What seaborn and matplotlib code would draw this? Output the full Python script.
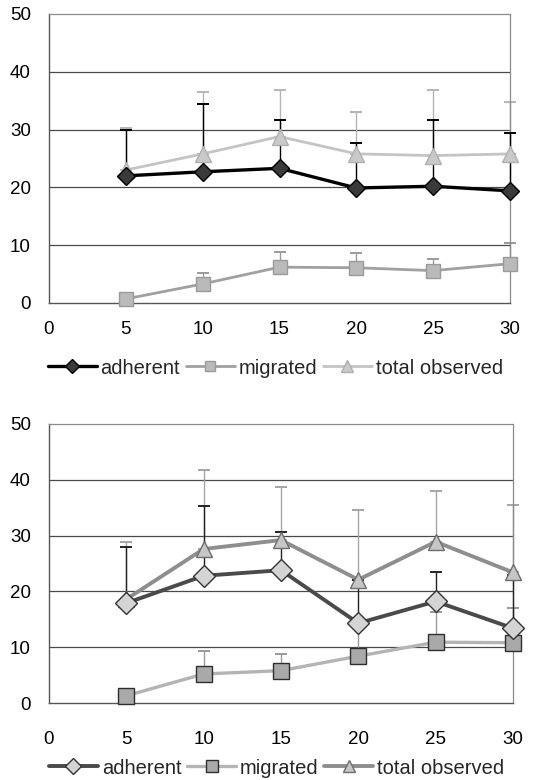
import numpy as np
import pandas as pd
import matplotlib
matplotlib.use("Agg")
import matplotlib.pyplot as plt
import seaborn as sns

# Time points (x axis)
minutes = [5, 10, 15, 20, 25, 30]
x_ticks = [0, 5, 10, 15, 20, 25, 30]
y_ticks = [0, 10, 20, 30, 40, 50]

# Upper panel: mean counts and +error
adherent_top = [22.0, 22.7, 23.3, 19.9, 20.2, 19.4]
adherent_top_err = [8.0, 11.7, 8.3, 7.8, 11.4, 10.0]
migrated_top = [0.7, 3.3, 6.2, 6.1, 5.6, 6.8]
migrated_top_err = [0.0, 1.9, 2.6, 2.5, 2.0, 3.5]
total_top = [23.0, 25.8, 28.8, 25.8, 25.5, 25.8]
total_top_err = [7.3, 10.7, 8.1, 7.2, 11.4, 8.9]

# Lower panel: mean counts and +error
adherent_bot = [17.9, 22.8, 23.8, 14.3, 18.2, 13.4]
adherent_bot_err = [10.1, 12.5, 6.9, 7.7, 5.3, 9.6]
migrated_bot = [1.3, 5.2, 5.8, 8.4, 10.9, 10.8]
migrated_bot_err = [0.0, 4.1, 3.0, 5.6, 5.4, 6.2]
total_bot = [18.6, 27.6, 29.2, 22.1, 28.9, 23.4]
total_bot_err = [10.3, 14.2, 9.5, 12.5, 9.1, 12.0]

series_names = ["adherent", "migrated", "total observed"]

sns.set_style("white")
plt.rcParams["font.family"] = ["Liberation Sans", "DejaVu Sans"]
plt.rcParams["font.size"] = 13.5

fig = plt.figure(figsize=(5.35, 7.8), dpi=100)
ax_top = fig.add_axes([49 / 535, 1 - 303 / 780, 461 / 535, 289 / 780])
ax_bot = fig.add_axes([49 / 535, 1 - 703 / 780, 464 / 535, 279 / 780])

styles_top = {
    "adherent": dict(color="#000000", lw=2.4, marker="D", ms=9.5, mfc="#3a3a3a", mec="#000000",
                     err_color="#000000"),
    "migrated": dict(color="#a0a0a0", lw=2.0, marker="s", ms=10.5, mfc="#bababa", mec="#9a9a9a",
                     err_color="#9a9a9a"),
    "total observed": dict(color="#c4c4c4", lw=2.0, marker="^", ms=11, mfc="#c9c9c9", mec="#b0b0b0",
                           err_color="#b5b5b5"),
}
styles_bot = {
    "adherent": dict(color="#4a4a4a", lw=2.8, marker="D", ms=11, mfc="#d4d4d4", mec="#333333",
                     err_color="#222222"),
    "migrated": dict(color="#b4b4b4", lw=2.4, marker="s", ms=12, mfc="#a9a9a9", mec="#2e2e2e",
                     err_color="#999999"),
    "total observed": dict(color="#8e8e8e", lw=2.8, marker="^", ms=11.5, mfc="#c6c6c6", mec="#6e6e6e",
                           err_color="#a5a5a5"),
}


def draw_panel(ax, values, errors, styles, xlabel_pad):
    order = [("total observed", 1), ("migrated", 2), ("adherent", 3)]
    # error bars (upper only) behind the lines
    for name, z in order:
        st = styles[name]
        err = np.array(errors[name])
        eb = ax.errorbar(minutes, values[name], yerr=[np.zeros_like(err), err], fmt="none",
                         ecolor=st["err_color"], elinewidth=1.0, capsize=4.5, capthick=1.4,
                         zorder=z)
        for artist in eb.lines[1] + eb.lines[2]:
            artist.set_clip_on(False)
    handles = {}
    for name, z in order:
        st = styles[name]
        df = pd.DataFrame({"minute": minutes, "count": values[name]})
        sns.lineplot(data=df, x="minute", y="count", ax=ax, color=st["color"], linewidth=st["lw"],
                     marker=st["marker"], markersize=st["ms"], markerfacecolor=st["mfc"],
                     markeredgecolor=st["mec"], markeredgewidth=1.0, zorder=z + 5, legend=False,
                     clip_on=False)
        handles[name] = ax.get_lines()[-1]
    ax.set_xlim(0, 30)
    ax.set_ylim(0, 50)
    ax.set_xticks(x_ticks)
    ax.set_yticks(y_ticks)
    ax.set_xlabel("")
    ax.set_ylabel("")
    for y in [10, 20, 30, 40]:
        ax.axhline(y, color="#4a4a4a", lw=0.9, zorder=0)
    for side in ["left", "bottom"]:
        ax.spines[side].set_color("#555555")
        ax.spines[side].set_linewidth(1.0)
    for side in ["top", "right"]:
        ax.spines[side].set_color("#8a8a8a")
        ax.spines[side].set_linewidth(0.9)
        ax.spines[side].set_linestyle((0, (1, 1)))
    ax.tick_params(axis="both", direction="out", length=4, width=0.8, color="#555555",
                   labelsize=13.5, labelcolor="#000000")
    ax.tick_params(axis="y", pad=9)
    ax.tick_params(axis="x", pad=xlabel_pad)
    return [handles[n] for n in series_names]


h_top = draw_panel(
    ax_top,
    {"adherent": adherent_top, "migrated": migrated_top, "total observed": total_top},
    {"adherent": adherent_top_err, "migrated": migrated_top_err, "total observed": total_top_err},
    styles_top, 9,
)
h_bot = draw_panel(
    ax_bot,
    {"adherent": adherent_bot, "migrated": migrated_bot, "total observed": total_bot},
    {"adherent": adherent_bot_err, "migrated": migrated_bot_err, "total observed": total_bot_err},
    styles_bot, 16,
)

legend_kw = dict(ncol=3, frameon=False, fontsize=14.5, handlelength=2.4, handletextpad=0.2,
                 columnspacing=0.3, markerscale=0.75, numpoints=1, loc="center")
fig.legend(h_top, series_names, bbox_to_anchor=(0.515, 1 - 368 / 780), **legend_kw)
fig.legend(h_bot, series_names, bbox_to_anchor=(0.517, 1 - 768 / 780), **legend_kw)

fig.savefig("out.png", dpi=100)
